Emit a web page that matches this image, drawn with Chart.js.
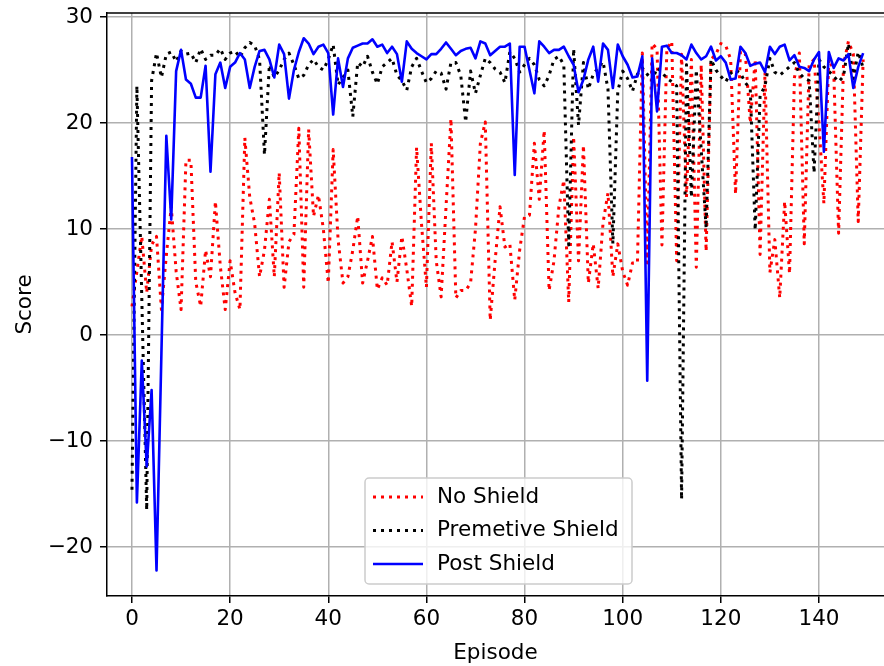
<!DOCTYPE html>
<html>
<head>
<meta charset="utf-8">
<title>Score per Episode</title>
<script src="https://cdn.jsdelivr.net/npm/chart.js@4.4.1/dist/chart.umd.min.js"></script>
<style>
  html, body { margin: 0; padding: 0; background: #fff; }
  canvas { display: block; }
</style>
</head>
<body>
<canvas id="scoreChart" width="884" height="666"></canvas>
<script>
// Score per episode
const noShield = [
  2.7, 6.0, 9.3, 4.0, 8.5, 9.3, 2.4, 7.5, 12.1, 6.0,
  2.4, 16.5, 16.5, 5.0, 2.7, 8.0, 5.5, 12.6, 6.5, 2.4,
  7.0, 4.0, 2.4, 18.6, 13.0, 10.5, 5.5, 8.0, 12.8, 5.5,
  15.3, 4.5, 8.8, 9.5, 19.5, 4.5, 19.4, 11.2, 13.2, 10.0,
  4.9, 17.5, 9.0, 4.9, 5.5, 8.0, 11.2, 4.9, 7.0, 9.3,
  4.3, 5.4, 4.7, 8.8, 5.0, 9.3, 6.2, 2.7, 17.7, 10.5,
  4.5, 18.1, 7.0, 3.6, 12.1, 20.4, 3.5, 4.2, 4.2, 4.9,
  10.0, 18.1, 20.1, 1.4, 7.0, 12.1, 8.3, 8.6, 3.3, 8.0,
  11.2, 11.3, 18.1, 12.8, 19.3, 4.2, 7.0, 12.1, 14.6, 3.1,
  18.7, 7.0, 17.9, 4.9, 8.6, 4.4, 10.6, 13.4, 5.5, 8.6,
  6.0, 4.7, 6.8, 6.8, 26.6, 6.8, 27.5, 27.0, 8.5, 27.0,
  27.7, 7.0, 26.5, 13.0, 26.0, 6.4, 25.5, 7.9, 26.0, 26.5,
  27.5, 27.3, 26.0, 13.3, 26.8, 26.5, 20.0, 26.0, 7.6, 24.8,
  5.9, 9.0, 3.5, 12.6, 5.8, 24.3, 26.6, 8.6, 25.5, 26.0,
  20.0, 12.4, 26.0, 25.0, 9.6, 25.5, 27.7, 26.5, 10.7, 26.0
];
const premetiveShield = [
  -14.6, 23.5, 3.5, -16.5, 24.0, 26.6, 24.3, 26.5, 26.7, 25.8,
  26.8, 26.5, 26.6, 25.7, 27.0, 26.0, 26.4, 26.4, 27.0, 26.0,
  26.6, 26.8, 26.2, 27.1, 27.6, 27.3, 26.0, 17.0, 25.5, 24.3,
  25.0, 26.0, 26.6, 25.5, 24.2, 24.5, 25.5, 26.0, 25.3, 25.0,
  26.0, 27.4, 23.6, 24.3, 25.0, 20.6, 25.7, 25.3, 26.3, 24.8,
  23.7, 25.3, 25.7, 26.1, 24.5, 24.0, 23.1, 25.3, 26.1, 24.9,
  23.8, 24.2, 24.9, 24.7, 23.2, 25.7, 25.7, 24.5, 20.1, 24.9,
  22.8, 24.5, 26.1, 25.7, 25.1, 24.8, 23.8, 26.7, 26.1, 24.8,
  25.5, 26.1, 25.5, 24.1, 23.5, 24.5, 26.0, 26.3, 25.5, 8.5,
  27.0, 19.8, 25.7, 23.2, 24.6, 25.2, 25.8, 23.2, 8.6, 23.0,
  24.9, 24.2, 23.0, 24.6, 25.2, 24.6, 24.0, 25.2, 24.8, 24.2,
  23.9, 23.5, -15.5, 25.5, 13.0, 25.0, 17.5, 10.1, 26.0, 25.0,
  24.4, 23.9, 24.7, 25.0, 24.7, 23.8, 23.2, 9.9, 22.6, 23.5,
  26.1, 24.8, 24.5, 24.9, 25.3, 25.7, 24.7, 24.2, 24.0, 15.3,
  26.0, 25.3, 24.9, 24.4, 23.9, 24.4, 27.5, 24.2, 26.7, 25.2
];
const postShield = [
  16.8, -15.8, -2.4, -12.4, -5.2, -22.2, -1.7, 18.8, 10.9, 24.9,
  26.9, 24.1, 23.7, 22.4, 22.4, 25.4, 15.4, 24.6, 25.7, 23.3,
  25.3, 25.7, 26.6, 26.0, 23.3, 25.3, 26.8, 26.9, 26.0, 24.3,
  27.4, 26.5, 22.3, 25.0, 26.7, 28.0, 27.5, 26.5, 27.2, 27.4,
  26.6, 20.8, 26.1, 23.4, 26.1, 27.1, 27.3, 27.5, 27.5, 27.9,
  27.2, 27.4, 26.6, 27.2, 26.5, 23.9, 27.7, 27.0, 26.6, 26.3,
  26.0, 26.5, 26.5, 27.0, 27.6, 27.0, 26.4, 26.8, 27.0, 27.1,
  26.1, 27.7, 27.5, 26.4, 26.8, 27.2, 27.2, 27.5, 15.1, 27.2,
  27.2, 25.0, 22.8, 27.7, 27.2, 26.6, 26.9, 26.9, 27.2, 26.3,
  25.5, 22.9, 24.1, 26.0, 27.2, 23.9, 27.5, 26.9, 23.3, 27.4,
  26.3, 25.5, 24.3, 24.4, 26.3, -4.3, 26.1, 21.1, 27.2, 27.3,
  26.6, 26.6, 26.4, 26.0, 27.4, 26.6, 26.0, 26.3, 27.2, 25.9,
  26.3, 25.7, 24.1, 24.2, 27.2, 26.6, 25.4, 25.6, 25.7, 24.8,
  27.2, 26.5, 27.2, 27.4, 25.9, 26.4, 25.3, 25.2, 24.9, 26.0,
  26.7, 17.3, 26.7, 25.2, 26.1, 25.9, 26.5, 23.3, 25.3, 26.6
];
const episodes = noShield.map((_, i) => i);
const seriesNames = ['No Shield', 'Premetive Shield', 'Post Shield'];
const xTicks = [0, 20, 40, 60, 80, 100, 120, 140];
const yTicks = [-20, -10, 0, 10, 20, 30];

const FONT = { family: '"DejaVu Sans", sans-serif', size: 21.5 };

function toPoints(values) {
  return values.map((v, i) => ({ x: episodes[i], y: v }));
}

// matplotlib style legend box inside the axes
const boxLegend = {
  id: 'boxLegend',
  afterDatasetsDraw(chart) {
    const ctx = chart.ctx;
    const x = 365, y = 478, w = 267, h = 106, r = 4;
    ctx.save();
    ctx.beginPath();
    ctx.roundRect(x, y, w, h, r);
    ctx.fillStyle = 'rgba(255,255,255,0.8)';
    ctx.fill();
    ctx.lineWidth = 1.5;
    ctx.strokeStyle = '#cccccc';
    ctx.stroke();

    ctx.font = FONT.size + 'px ' + FONT.family;
    ctx.textBaseline = 'middle';
    ctx.textAlign = 'left';
    chart.data.datasets.forEach((ds, i) => {
      const ly = 497 + i * 33.5;
      ctx.beginPath();
      ctx.setLineDash(ds.borderDash || []);
      ctx.lineWidth = ds.borderWidth;
      ctx.strokeStyle = ds.borderColor;
      ctx.moveTo(373, ly);
      ctx.lineTo(423, ly);
      ctx.stroke();
      ctx.setLineDash([]);
      ctx.fillStyle = '#000';
      ctx.fillText(ds.label, 437, ly);
    });
    ctx.restore();
  }
};

// top spine (right one falls outside the picture)
const topSpine = {
  id: 'topSpine',
  afterDatasetsDraw(chart) {
    const { ctx, chartArea } = chart;
    ctx.save();
    ctx.beginPath();
    ctx.lineWidth = 1.5;
    ctx.strokeStyle = '#000';
    ctx.moveTo(chartArea.left, chartArea.top);
    ctx.lineTo(chartArea.right, chartArea.top);
    ctx.stroke();
    ctx.restore();
  }
};

const ctx = document.getElementById('scoreChart').getContext('2d');

const scoreChart = new Chart(ctx, {
  type: 'line',
  data: {
    datasets: [
      {
        label: seriesNames[0],
        data: toPoints(noShield),
        borderColor: '#ff0000',
        borderWidth: 3,
        borderDash: [3, 5],
        order: 3
      },
      {
        label: seriesNames[1],
        data: toPoints(premetiveShield),
        borderColor: '#000000',
        borderWidth: 3,
        borderDash: [3, 5],
        order: 2
      },
      {
        label: seriesNames[2],
        data: toPoints(postShield),
        borderColor: '#0000ff',
        borderWidth: 2.6,
        order: 1
      }
    ]
  },
  options: {
    responsive: false,
    animation: false,
    devicePixelRatio: 1,
    layout: { padding: { top: 13, right: 0, bottom: 0, left: 0 } },
    elements: {
      point: { radius: 0, hoverRadius: 0 },
      line: { tension: 0, fill: false, borderJoinStyle: 'round' }
    },
    plugins: {
      legend: { display: false },
      tooltip: { enabled: false }
    },
    scales: {
      x: {
        type: 'linear',
        min: -5.09,
        max: 153.25,
        afterFit: (scale) => {
          scale.height = 70;
          scale.paddingLeft = 0;
          scale.paddingRight = 0;
        },
        afterBuildTicks: (scale) => { scale.ticks = xTicks.map(v => ({ value: v })); },
        grid: { color: '#b0b0b0', lineWidth: 1.5, tickColor: '#000', tickLength: 7, tickWidth: 1.5 },
        border: { display: true, color: '#000', width: 1.5 },
        ticks: { color: '#000', font: FONT, padding: 4, maxRotation: 0, autoSkip: false },
        title: { display: true, text: 'Episode', color: '#000', font: FONT, padding: { top: 0, bottom: 0 } }
      },
      y: {
        min: -24.62,
        max: 30.38,
        afterFit: (scale) => {
          scale.width = 107;
          scale.paddingTop = 0;
          scale.paddingBottom = 0;
        },
        afterBuildTicks: (scale) => { scale.ticks = yTicks.map(v => ({ value: v })); },
        grid: { color: '#b0b0b0', lineWidth: 1.5, tickColor: '#000', tickLength: 7, tickWidth: 1.5 },
        border: { display: true, color: '#000', width: 1.5 },
        ticks: {
          color: '#000',
          font: FONT,
          padding: 7,
          callback: (v) => (v < 0 ? '\u2212' + Math.abs(v) : String(v))
        },
        title: { display: true, text: 'Score', color: '#000', font: FONT, padding: { top: 13, bottom: 0 } }
      }
    }
  },
  plugins: [topSpine, boxLegend]
});
</script>
</body>
</html>
